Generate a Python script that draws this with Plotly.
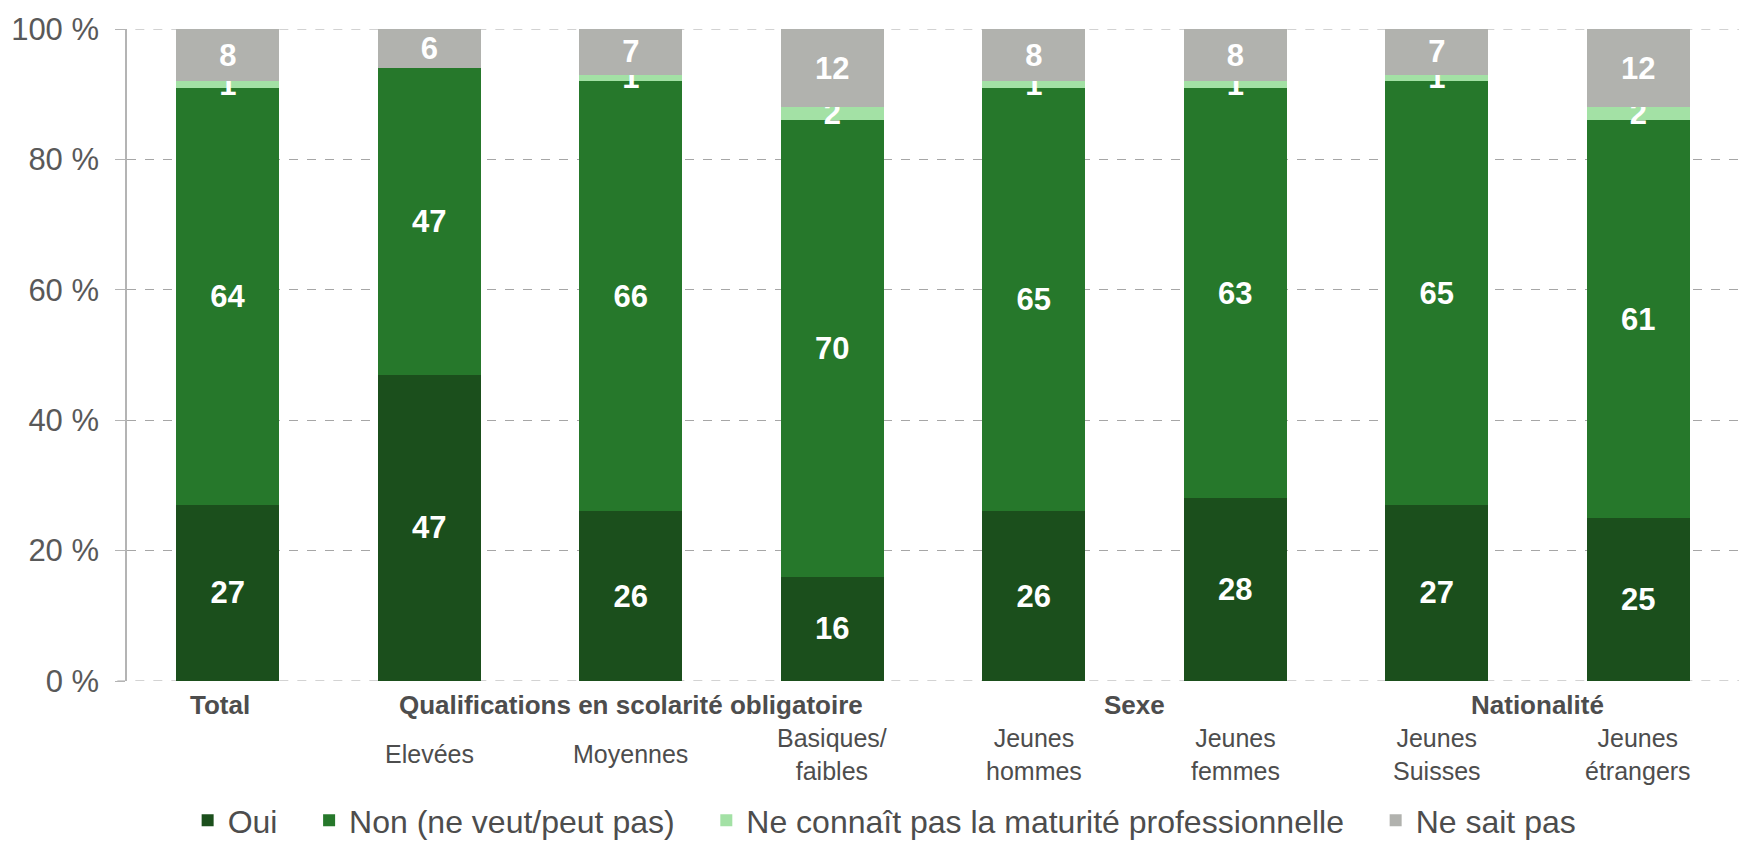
import plotly.graph_objects as go

categories = ["Total", "Elevées", "Moyennes", "Basiques/<br>faibles", "Jeunes<br>hommes",
              "Jeunes<br>femmes", "Jeunes<br>Suisses", "Jeunes<br>étrangers"]
sub_labels = ["", "Elevées", "Moyennes", "Basiques/<br>faibles", "Jeunes<br>hommes",
              "Jeunes<br>femmes", "Jeunes<br>Suisses", "Jeunes<br>étrangers"]
groups = [("Total", [0]), ("Qualifications en scolarité obligatoire", [1, 2, 3]),
          ("Sexe", [4, 5]), ("Nationalité", [6, 7])]

oui = [27, 47, 26, 16, 26, 28, 27, 25]
non = [64, 47, 66, 70, 65, 63, 65, 61]
ne_connait = [1, 0, 1, 2, 1, 1, 1, 2]
ne_sait = [8, 6, 7, 12, 8, 8, 7, 12]

series = [
    ("Oui", oui, "#1b4f1c"),
    ("Non (ne veut/peut pas)", non, "#26782b"),
    ("Ne connaît pas la maturité professionnelle", ne_connait, "#a3e1a5"),
    ("Ne sait pas", ne_sait, "#b1b2ae"),
]

xs = list(range(len(categories)))
fig = go.Figure()
pad = "\u00a0\u00a0\u00a0"
for k, (name, vals, col) in enumerate(series):
    fig.add_trace(go.Bar(
        x=xs, y=vals, name=name + (pad if k < len(series) - 1 else ""),
        marker=dict(color=col, line=dict(width=0)),
        text=[str(v) if v > 0 else "" for v in vals],
        textposition="inside", insidetextanchor="middle",
        textfont=dict(color="white", size=31, family="Liberation Sans, Arial, sans-serif", weight="bold"),
        textangle=0, cliponaxis=False,
    ))

font_fam = "Liberation Sans, Arial, sans-serif"
ann = []
for label, idx in groups:
    xc = sum(idx) / len(idx)
    if label == "Total":
        xc -= 0.04
    ann.append(dict(x=xc, xref="x", y=-0.037, yref="paper", text=f"<b>{label}</b>",
                    showarrow=False, yanchor="middle",
                    font=dict(size=26, color="#4d4d4d", family=font_fam)))
for i, lab in enumerate(sub_labels):
    if lab:
        ann.append(dict(x=i, xref="x", y=-0.112, yref="paper", text=lab, showarrow=False,
                        yanchor="middle", font=dict(size=25, color="#4d4d4d", family=font_fam)))

shapes = [dict(type="line", xref="paper", yref="y", x0=-0.006, x1=1, y0=yv, y1=yv,
               line=dict(color="#a6a6a6", width=1, dash="dash"), layer="below")
          for yv in (0, 100)]

fig.update_layout(
    barmode="stack", bargap=0.49,
    width=1739, height=842,
    margin=dict(l=127, r=0, t=29, b=161, autoexpand=False),
    plot_bgcolor="white", paper_bgcolor="white",
    uniformtext=dict(minsize=31, mode="show"),
    annotations=ann, shapes=shapes,
    legend=dict(orientation="h", x=0.47, xanchor="center", y=-0.214, yanchor="middle",
                font=dict(size=32, color="#4d4d4d", family=font_fam),
                traceorder="normal"),
    showlegend=True,
)
fig.update_xaxes(range=[-0.5, 7.5], showticklabels=False, showgrid=False, zeroline=False,
                 showline=False, ticks="")
fig.update_yaxes(range=[0, 100], tickvals=[0, 20, 40, 60, 80, 100],
                 ticktext=["0 %", "20 %", "40 %", "60 %", "80 %", "100 %"],
                 tickfont=dict(size=31, color="#595959", family=font_fam),
                 ticklabelstandoff=10,
                 showgrid=True, gridcolor="#a6a6a6", griddash="dash", gridwidth=1,
                 zeroline=False, showline=True, linecolor="#b4b4b4", linewidth=1.5,
                 ticks="outside", ticklen=10, tickcolor="#b4b4b4")

fig.write_html("out.html", config={"displayModeBar": False},
               post_script="document.body.style.margin='0';document.body.style.overflow='hidden';")
